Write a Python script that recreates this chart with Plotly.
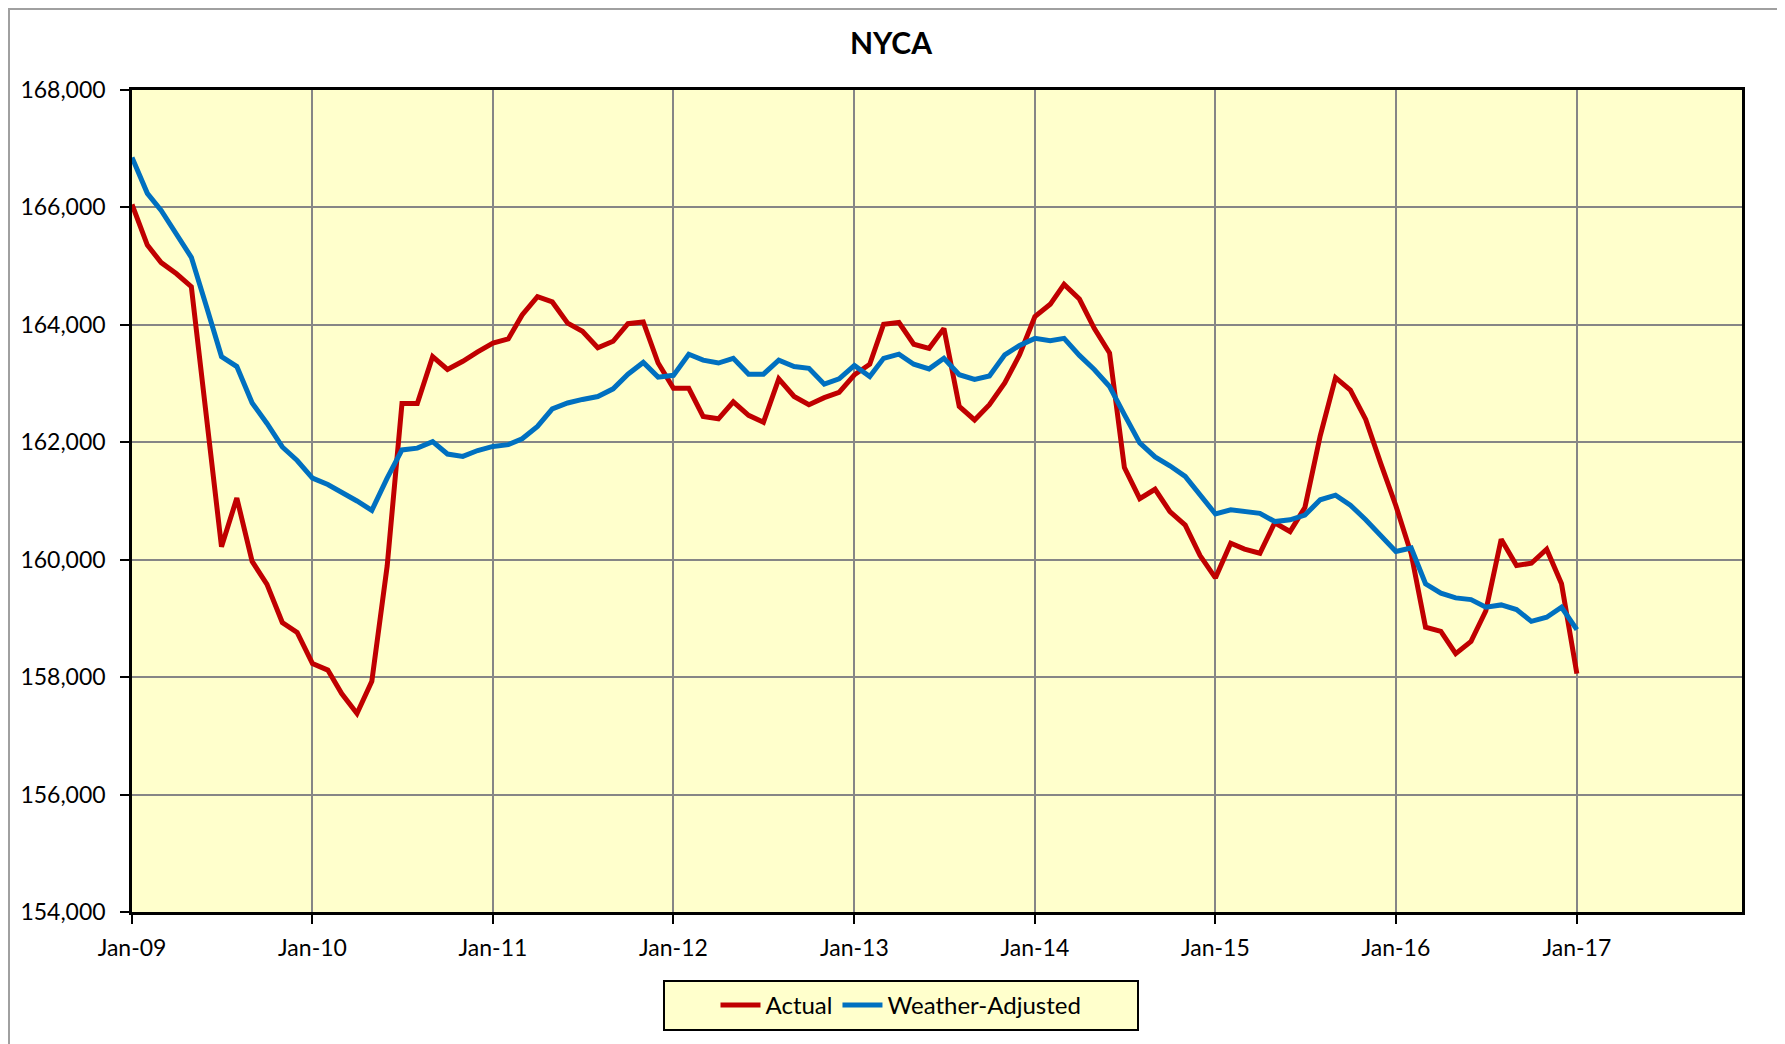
import pandas as pd
import plotly.graph_objects as go

# ---- data (monthly, Jan-2009 .. Jan-2017) ----
start_month = "2009-01-01"
actual = [
    166050, 165360, 165060, 164870, 164650, 162440, 160220, 161050, 159970, 159580, 158930, 158760,
    158230, 158120, 157720, 157380, 157930, 159890, 162660, 162660, 163460, 163240, 163380, 163540,
    163690, 163760, 164170, 164480, 164390, 164030, 163890, 163610, 163720, 164020, 164050, 163350,
    162920, 162920, 162440, 162400, 162690, 162460, 162340, 163080, 162780, 162640, 162760, 162850,
    163150, 163330, 164010, 164040, 163670, 163600, 163940, 162610, 162380, 162640, 163010, 163490,
    164140, 164350, 164690, 164440, 163940, 163520, 161570, 161040, 161200, 160820, 160590, 160070,
    159690, 160280, 160180, 160110, 160630, 160480, 160890, 162110, 163100, 162890, 162390, 161650,
    160920, 160100, 158850, 158780, 158400, 158610, 159130, 160350, 159900, 159940, 160180, 159590,
    158060,
]
weather_adjusted = [
    166850, 166240, 165950, 165550, 165150, 164300, 163460, 163290, 162670, 162320, 161920, 161690,
    161390, 161280, 161150, 161000, 160840, 161390, 161870, 161900, 162010, 161800, 161760, 161860,
    161930, 161960, 162060, 162270, 162570, 162670, 162730, 162780, 162910, 163160, 163360, 163110,
    163140, 163500, 163400, 163350, 163430, 163160, 163160, 163400, 163290, 163260, 162990, 163080,
    163310, 163120, 163430, 163500, 163330, 163250, 163430, 163150, 163070, 163130, 163490, 163650,
    163770, 163730, 163770, 163480, 163240, 162950, 162470, 161990, 161750, 161600, 161420, 161090,
    160780, 160850, 160820, 160790, 160650, 160680, 160760, 161020, 161100, 160930, 160680, 160410,
    160140, 160200, 159590, 159430, 159350, 159320, 159190, 159230, 159150, 158950, 159020, 159190,
    158810,
]
x_tick_labels = ["Jan-09", "Jan-10", "Jan-11", "Jan-12", "Jan-13", "Jan-14", "Jan-15", "Jan-16", "Jan-17"]
x_tick_dates = ["2009-01-01", "2010-01-01", "2011-01-01", "2012-01-01", "2013-01-01",
                "2014-01-01", "2015-01-01", "2016-01-01", "2017-01-01"]
x_range = ["2009-01-01", "2017-12-01"]
y_range = [154000, 168000]

dates = pd.date_range(start_month, periods=len(actual), freq="MS")

FONT = "Lato, 'Open Sans', sans-serif"

fig = go.Figure()
fig.add_trace(go.Scatter(x=dates, y=actual, mode="lines", name="Actual",
                         line=dict(color="#C00000", width=5)))
fig.add_trace(go.Scatter(x=dates, y=weather_adjusted, mode="lines", name="Weather-Adjusted",
                         line=dict(color="#0070C0", width=5)))

W, H = 1785, 1044
L, R, T, B = 124, 51, 82, 140
pw, ph = W - L - R, H - T - B


def px(xpix):
    return (xpix - L) / pw


def py(ypix):
    return (H - B - ypix) / ph


# legend frame (box drawn behind the native legend)
box_x0, box_x1, box_y0, box_y1 = 656, 1130, 973, 1022

fig.update_layout(
    width=W, height=H,
    margin=dict(l=L, r=R, t=T, b=B),
    paper_bgcolor="white",
    plot_bgcolor="#FFFFCC",
    font=dict(family=FONT, size=23, color="black"),
    title=dict(text="<b>NYCA</b>", x=883 / W, xref="container", xanchor="center",
               y=1 - 35.5 / H, yref="container", yanchor="middle",
               font=dict(family=FONT, size=30, color="black")),
    showlegend=True,
    legend=dict(orientation="h", x=px((box_x0 + box_x1) / 2), y=py((box_y0 + box_y1) / 2),
                xanchor="center", yanchor="middle",
                bgcolor="rgba(0,0,0,0)", borderwidth=0,
                font=dict(family=FONT, size=24, color="black"),
                itemwidth=40),
    shapes=[
        dict(type="rect", xref="paper", yref="paper",
             x0=px(1), x1=px(W + 20), y0=py(H + 20), y1=py(1),
             line=dict(color="#A0A0A0", width=2), fillcolor="rgba(0,0,0,0)", layer="below"),
        dict(type="rect", xref="paper", yref="paper",
             x0=px(box_x0), x1=px(box_x1), y0=py(box_y1), y1=py(box_y0),
             line=dict(color="black", width=2), fillcolor="#FFFFCC", layer="below"),
    ],
)

fig.update_xaxes(
    type="date", range=x_range,
    tickvals=x_tick_dates, ticktext=x_tick_labels,
    showgrid=True, gridcolor="#868686", gridwidth=2,
    showline=True, linecolor="black", linewidth=2.5, mirror=True,
    ticks="outside", ticklen=9, tickwidth=2, tickcolor="black",
    ticklabelstandoff=5,
    tickfont=dict(family=FONT, size=23, color="black"),
    zeroline=False,
)
fig.update_yaxes(
    range=y_range, dtick=2000, tick0=154000,
    tickformat=",d",
    showgrid=True, gridcolor="#868686", gridwidth=2,
    showline=True, linecolor="black", linewidth=2.5, mirror=True,
    ticks="outside", ticklen=9, tickwidth=2, tickcolor="black",
    ticklabelstandoff=10,
    tickfont=dict(family=FONT, size=23, color="black"),
    zeroline=False,
)

fig.write_html("out.html")
